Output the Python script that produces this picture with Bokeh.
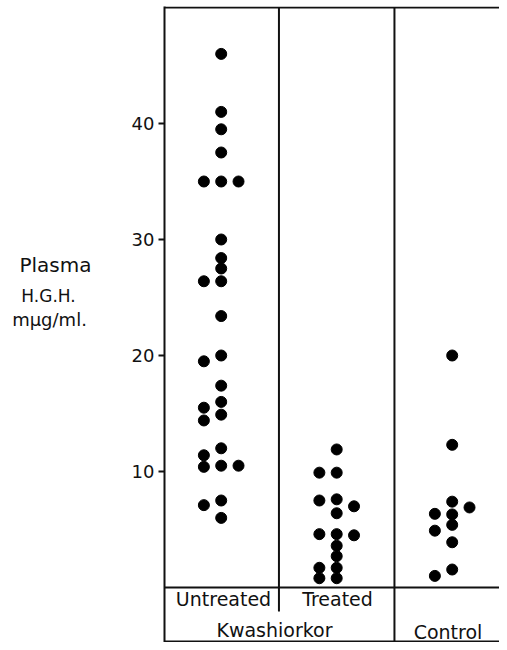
from bokeh.plotting import figure
from bokeh.layouts import row
from bokeh.models import Range1d, FixedTicker, Span, Label, ColumnDataSource
from bokeh.embed import file_html
from bokeh.resources import INLINE

# ---- data (Plasma H.G.H., mµg/ml) ----
groups = ["Untreated", "Treated", "Control"]
untreated_left = [35, 26.4, 19.5, 15.5, 14.4, 11.4, 10.4, 7.1]
untreated_mid = [46, 41, 39.5, 37.5, 35, 30, 28.4, 27.5, 26.4, 23.4, 20,
                 17.4, 16, 14.9, 12, 10.5, 7.5, 6.0]
untreated_right = [35, 10.5]
treated_left = [9.9, 7.5, 4.6, 1.7, 0.8]
treated_mid = [11.9, 9.9, 7.6, 6.4, 4.6, 3.6, 2.7, 1.7, 0.8]
treated_right = [7.0, 4.5]
control_left = [6.35, 4.9, 1.0]
control_mid = [20, 12.3, 7.4, 6.3, 5.4, 3.9, 1.55]
control_right = [6.9]
y_ticks = [10, 20, 30, 40]

# ---- layout helpers (reference pixel -> data units) ----
PX_PER_X = 115.5
X0_PAGE = 220.7
PX_PER_Y = 11.6
Y0_PAGE = 592.0
SHIFT_Y = 5          # whole picture moved up a little to fit the window
W_TOTAL, H_TOTAL = 499, 642
W_LEFT = 120


def xd(px):
    return 1 + (px - X0_PAGE) / PX_PER_X


def yd(py):
    return (Y0_PAGE - py) / PX_PER_Y


DODGE = 0.15
FONT = "DejaVu Sans"
INK = "#111111"

xs, ys = [], []
series = [
    (1, untreated_left, untreated_mid, untreated_right),
    (2, treated_left, treated_mid, treated_right),
    (3, control_left, control_mid, control_right),
]
for g, left, mid, right in series:
    for vals, off in ((left, -DODGE), (mid, 0.0), (right, DODGE)):
        for v in vals:
            xs.append(g + off)
            ys.append(v)

src = ColumnDataSource(dict(x=xs, y=ys))

p = figure(width=W_TOTAL - W_LEFT, height=H_TOTAL,
           x_range=Range1d(xd(164), xd(W_TOTAL)),
           y_range=Range1d(yd(H_TOTAL + SHIFT_Y), yd(11)),
           output_backend="svg", toolbar_location=None,
           x_axis_location=None,
           min_border_left=164 - W_LEFT, min_border_right=0,
           min_border_top=11 - SHIFT_Y, min_border_bottom=0)
p.outline_line_color = None
p.xgrid.visible = False
p.ygrid.visible = False
p.background_fill_color = "white"
p.border_fill_color = "white"

ax = p.yaxis[0]
ax.ticker = FixedTicker(ticks=y_ticks)
ax.axis_line_width = 2
ax.axis_line_color = INK
ax.major_tick_line_width = 2
ax.major_tick_line_color = INK
ax.major_tick_out = 6
ax.major_tick_in = 0
ax.minor_tick_out = 0
ax.minor_tick_in = 0
ax.major_label_text_font = FONT
ax.major_label_text_font_size = "18px"
ax.major_label_text_color = INK
ax.major_label_standoff = 4

# frame lines
for loc in (50, 0, yd(646)):
    p.add_layout(Span(location=loc, dimension="width", line_color=INK, line_width=2))
p.segment(x0=[1.5, 2.5], y0=[50, 50], x1=[1.5, 2.5], y1=[yd(616), yd(647)],
          line_color=INK, line_width=2)

p.scatter("x", "y", source=src, size=11, color="black")


def lab(fig, x, y, text, size):
    fig.add_layout(Label(x=x, y=y, text=text, text_align="center",
                         text_baseline="middle", text_font=FONT,
                         text_font_size=size, text_color=INK))


lab(p, xd(223), yd(603), "Untreated", "19px")
lab(p, xd(337), yd(603), "Treated", "19px")
lab(p, xd(274), yd(634), "Kwashiorkor", "19px")
lab(p, xd(447.5), yd(636), "Control", "19px")

# left panel holding the y-axis title
q = figure(width=W_LEFT, height=H_TOTAL,
           x_range=Range1d(0, W_LEFT), y_range=Range1d(H_TOTAL + SHIFT_Y, SHIFT_Y),
           output_backend="svg", toolbar_location=None,
           x_axis_location=None, y_axis_location=None,
           min_border_left=0, min_border_right=0,
           min_border_top=0, min_border_bottom=0)
q.outline_line_color = None
q.xgrid.visible = False
q.ygrid.visible = False
q.background_fill_color = "white"
q.border_fill_color = "white"

lab(q, 55, 266, "Plasma", "20px")
lab(q, 48, 297, "H.G.H.", "17px")
lab(q, 49, 321, "mμg/ml.", "18px")

layout = row(q, p, spacing=0)
open("out.html", "w").write(file_html(layout, INLINE))
